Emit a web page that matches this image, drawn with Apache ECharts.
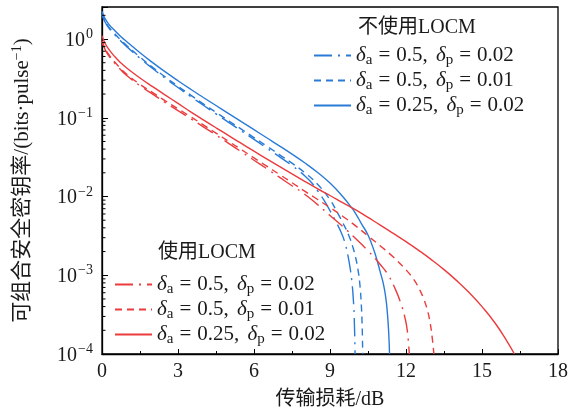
<!DOCTYPE html>
<html><head><meta charset="utf-8">
<script src="https://cdn.jsdelivr.net/npm/echarts@6/dist/echarts.min.js"></script>
<style>html,body{margin:0;padding:0;background:#fff}#c{width:582px;height:415px}</style>
</head><body><div id="c"></div>
<script>
// ---- data ----
// 不使用LOCM, δa=0.5, δp=0.02 (blue dash-dot)
const xB1 = [0,0.1,0.25,0.5,0.75,1,1.5,2,2.5,3,3.5,4,4.5,5,5.5,6,6.5,7,7.5,8,8.34,8.5,8.75,9,9.25,9.46,9.6,9.72,9.8,9.86,9.92,9.96,9.99];
const yB1 = [2.04,1.69,1.41,1.135,0.938,0.789,0.57,0.422,0.317,0.242,0.186,0.144,0.112,0.0873,0.0681,0.0531,0.0413,0.0321,0.0247,0.0184,0.0141,0.012,0.00912,0.00661,0.00468,0.00339,0.00251,0.0017,0.0012,0.000851,0.000501,0.000263,0.0001];
// 不使用LOCM, δa=0.5, δp=0.01 (blue dashed)
const xB2 = [0,0.1,0.25,0.5,0.75,1,1.5,2,2.5,3,3.5,4,4.5,5,5.5,6,6.5,7,7.5,8,8.5,9,9.25,9.5,9.75,9.9,10,10.1,10.18,10.24,10.27,10.29];
const yB2 = [2.1,1.74,1.45,1.17,0.966,0.813,0.589,0.437,0.329,0.251,0.194,0.15,0.117,0.0916,0.0716,0.056,0.0438,0.0341,0.0265,0.0201,0.0144,0.00912,0.00661,0.00468,0.00316,0.00229,0.00174,0.0012,0.000759,0.000398,0.000224,0.0001];
// 不使用LOCM, δa=0.25, δp=0.02 (blue solid)
const xB3 = [0,0.1,0.25,0.5,0.75,1,1.5,2,2.5,3,3.5,4,4.5,5,5.5,6,6.5,7,7.5,8,8.5,9,9.5,9.86,10,10.25,10.5,10.75,10.9,11,11.1,11.2,11.27,11.32,11.35];
const yB3 = [2.25,1.87,1.57,1.28,1.07,0.912,0.668,0.501,0.382,0.295,0.23,0.181,0.143,0.113,0.0891,0.0705,0.0557,0.044,0.0345,0.0268,0.0203,0.0148,0.01,0.00716,0.00617,0.00447,0.00324,0.002,0.00138,0.00105,0.000794,0.000525,0.000316,0.000178,0.0001];
// 使用LOCM, δa=0.5, δp=0.02 (red dash-dot)
const xR1 = [0,0.1,0.25,0.5,0.75,1,1.5,2,2.5,3,3.5,4,4.5,5,5.5,6,6.5,7,7.5,8,8.5,9,9.5,10,10.5,11,11.3,11.57,11.8,11.96,12.05,12.13];
const yR1 = [0.923,0.762,0.624,0.495,0.403,0.339,0.255,0.2,0.156,0.123,0.0973,0.0767,0.0603,0.0472,0.037,0.0289,0.0226,0.0176,0.0137,0.0107,0.00794,0.00575,0.00417,0.00295,0.00204,0.00135,0.001,0.000676,0.000437,0.000288,0.0002,0.0001];
// 使用LOCM, δa=0.5, δp=0.01 (red dashed)
const xR2 = [0,0.1,0.25,0.5,0.75,1,1.5,2,2.5,3,3.5,4,4.5,5,5.5,6,6.5,7,7.5,8,8.5,9,9.5,10,10.5,11,11.5,12,12.3,12.5,12.7,12.85,12.95,13.03,13.1];
const yR2 = [0.951,0.785,0.646,0.513,0.417,0.352,0.266,0.209,0.164,0.13,0.103,0.0813,0.0638,0.0501,0.0394,0.0309,0.0243,0.0191,0.015,0.0117,0.00923,0.00724,0.00562,0.00427,0.00316,0.00234,0.0017,0.00117,0.000891,0.000692,0.000501,0.000355,0.000251,0.000166,0.0001];
// 使用LOCM, δa=0.25, δp=0.02 (red solid)
const xR3 = [0,0.1,0.25,0.5,0.75,1,1.5,2,2.5,3,3.5,4,4.5,5,5.5,6,6.5,7,7.5,8,8.5,9,9.5,10,10.5,11,11.5,12,12.5,13,13.5,14,14.5,15,15.5,16,16.28];
const yR3 = [1.1,0.914,0.755,0.6,0.495,0.422,0.32,0.248,0.194,0.152,0.119,0.0942,0.0746,0.0593,0.0472,0.0376,0.0301,0.0241,0.0194,0.0156,0.0126,0.0103,0.00837,0.00682,0.00542,0.00431,0.0034,0.00267,0.00207,0.00158,0.00118,0.000855,0.000598,0.0004,0.000251,0.000143,0.0001];

const xTicks = [0,3,6,9,12,15,18];
const yExponents = [-4,-3,-2,-1,0];
const yMinorTicks = [];
for (let e = -4; e <= 0; e++) for (let k = 2; k <= 9; k++) { const v = k * Math.pow(10, e); if (v <= 2.55) yMinorTicks.push(v); }

const groupNo = '不使用LOCM';
const groupYes = '使用LOCM';
const labelMap = {
  B1: ['0.5','0.02'], B2: ['0.5','0.01'], B3: ['0.25','0.02'],
  R1: ['0.5','0.02'], R2: ['0.5','0.01'], R3: ['0.25','0.02']
};
// ---- chart ----
const FONT = '"Liberation Serif","Noto Sans CJK SC",serif';
const BLUE = '#2a7bd8', RED = '#ec3b3d';
const DASHDOT = [18,6,2,6], DASH = [7,5];
const zip = (xs, ys) => xs.map((x, i) => [x, ys[i]]);
const mk = (name, xs, ys, color, type) => ({
  name, type: 'line', data: zip(xs, ys), showSymbol: false, symbol: 'none',
  smooth: 0.5,
  lineStyle: { color, width: 1.4, type }, itemStyle: { color }, z: 3
});
const fmtLegend = name => {
  const p = labelMap[name];
  return '{i|δ}{s|a}{e|=}{t|' + p[0] + ',}{g| }{i|δ}{s|p}{e|=}{t|' + p[1] + '}';
};
const C = '#1a1a1a';
const legendRich = {
  t: { fontFamily: FONT, fontSize: 21, color: C, lineHeight: 21 },
  e: { fontFamily: FONT, fontSize: 21, color: C, lineHeight: 21, padding: [0,6,0,6] },
  g: { fontFamily: FONT, fontSize: 21, color: C, lineHeight: 21, padding: [0,3,0,0] },
  i: { fontFamily: FONT, fontSize: 21, fontStyle: 'italic', color: C, lineHeight: 21 },
  s: { fontFamily: FONT, fontSize: 15, color: C, lineHeight: 12, padding: [10,0,0,0] }
};
const legendItem = (name, left, centerY) => ({
  data: [name], orient: 'vertical', left, top: centerY - 11, itemWidth: 37, itemHeight: 14, padding: 0,
  formatter: fmtLegend, textStyle: { rich: legendRich }, selectedMode: false,
  itemStyle: { color: 'rgba(0,0,0,0)', borderColor: 'rgba(0,0,0,0)', borderWidth: 0 }
});
const chart = echarts.init(document.getElementById('c'), null, { renderer: 'canvas' });
chart.setOption({
  animation: false,
  backgroundColor: '#fff',
  grid: { left: 102, right: 24, top: 7, bottom: 60, show: true, borderColor: '#000', borderWidth: 1.3, containLabel: false },
  xAxis: {
    type: 'value', min: xTicks[0], max: xTicks[xTicks.length - 1], interval: 3,
    name: '传输损耗/dB', nameLocation: 'middle', nameGap: 36,
    nameTextStyle: { fontFamily: FONT, fontSize: 20, color: C },
    axisLine: { show: true, lineStyle: { color: '#000', width: 1.3 } },
    axisTick: { show: true, inside: true, length: 5, lineStyle: { color: '#000', width: 1 } },
    minorTick: { show: true, splitNumber: 2, length: 3, lineStyle: { color: '#000', width: 1 } },
    axisLabel: { fontFamily: FONT, fontSize: 20, color: C, margin: 8 },
    splitLine: { show: false }
  },
  yAxis: {
    type: 'log', logBase: 10, min: 1e-4, max: 2.55,
    name: '可组合安全密钥率/(bits·pulse{sp|−1})', nameLocation: 'middle', nameGap: 68, nameRotate: 90,
    nameTextStyle: { fontFamily: FONT, fontSize: 21, color: C,
      rich: { sp: { fontFamily: FONT, fontSize: 14, color: C, padding: [0,0,10,0] } } },
    axisLine: { show: true, lineStyle: { color: '#000', width: 1.3 } },
    axisTick: { show: true, inside: true, length: 6, lineStyle: { color: '#000', width: 1 } },
    axisLabel: {
      fontFamily: FONT, fontSize: 20, color: C, margin: 9,
      formatter: v => {
        const e = Math.log10(v);
        if (Math.abs(e - Math.round(e)) > 1e-6 || yExponents.indexOf(Math.round(e)) < 0) return '';
        const r = Math.round(e);
        return '{b|10}{u|' + (r < 0 ? '−' + (-r) : r) + '}';
      },
      rich: {
        b: { fontFamily: FONT, fontSize: 20, color: C, verticalAlign: 'bottom' },
        u: { fontFamily: FONT, fontSize: 14, color: C, verticalAlign: 'bottom', padding: [0,0,9,1] }
      }
    },
    splitLine: { show: false }
  },
  legend: [
    legendItem('B1', 313, 54), legendItem('B2', 313, 79), legendItem('B3', 313, 104),
    legendItem('R1', 114, 283), legendItem('R2', 114, 308), legendItem('R3', 114, 333)
  ],
  graphic: [
    { type: 'text', left: 358, top: 18, style: { text: groupNo, font: '20px ' + FONT, fill: C } },
    { type: 'text', left: 158, top: 243, style: { text: groupYes, font: '20px ' + FONT, fill: C } }
  ],
  series: [
    mk('B1', xB1, yB1, BLUE, DASHDOT),
    mk('B2', xB2, yB2, BLUE, DASH),
    mk('B3', xB3, yB3, BLUE, 'solid'),
    mk('R1', xR1, yR1, RED, DASHDOT),
    mk('R2', xR2, yR2, RED, DASH),
    mk('R3', xR3, yR3, RED, 'solid'),
    {
      type: 'custom', name: 'minorTicks', silent: true, clip: false, z: 10,
      data: yMinorTicks.map(v => [0, v]),
      renderItem: (params, api) => {
        const p = api.coord([api.value(0), api.value(1)]);
        return { type: 'line', shape: { x1: p[0], y1: p[1], x2: p[0] + 3.5, y2: p[1] }, style: { stroke: '#000', lineWidth: 1 } };
      }
    }
  ]
});
</script>
</body></html>
